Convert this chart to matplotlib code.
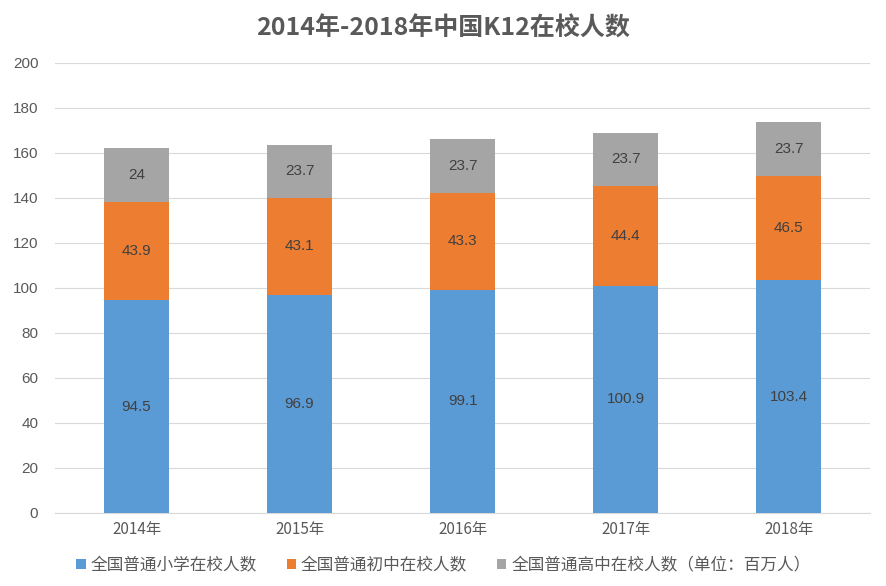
import matplotlib
matplotlib.use("Agg")
import matplotlib.pyplot as plt
from matplotlib.patches import Patch

plt.rcParams['font.family'] = ['Noto Sans CJK SC', 'DejaVu Sans']

years = ['2014年', '2015年', '2016年', '2017年', '2018年']
primary = [94.5, 96.9, 99.1, 100.9, 103.4]
junior = [43.9, 43.1, 43.3, 44.4, 46.5]
senior = [24, 23.7, 23.7, 23.7, 23.7]
series_names = ['全国普通小学在校人数', '全国普通初中在校人数', '全国普通高中在校人数（单位：百万人）']
colors = ['#5B9BD5', '#ED7D31', '#A5A5A5']

fig = plt.figure(figsize=(8.87, 5.86), dpi=100)
ax = fig.add_axes([0.062, 0.1246, 0.919, 0.768])

x = range(len(years))
bottom = [0] * len(years)
for vals, c in zip([primary, junior, senior], colors):
    bars = ax.bar(x, vals, width=0.4, bottom=bottom, color=c, zorder=3)
    for xi, b, v in zip(x, bottom, vals):
        ax.text(xi, b + v / 2, f'{v:g}', ha='center', va='center', fontsize=11,
                color='#404040', family=['Liberation Sans', 'DejaVu Sans'], zorder=4)
    bottom = [b + v for b, v in zip(bottom, vals)]

ax.set_ylim(0, 200)
ax.set_yticks(range(0, 201, 20))
ax.set_xlim(-0.5, 4.5)
ax.set_xticks(list(x))
ax.set_xticklabels(years, fontsize=11, color='#595959')
ax.tick_params(axis='y', labelsize=11, labelcolor='#595959', length=0, pad=12)
ax.tick_params(axis='x', length=0, pad=6)
for lbl in ax.get_yticklabels():
    lbl.set_family(['Liberation Sans', 'DejaVu Sans'])
ax.grid(axis='y', color='#D9D9D9', linewidth=0.8, zorder=0)
for s in ['top', 'right', 'left']:
    ax.spines[s].set_visible(False)
ax.spines['bottom'].set_color('#D9D9D9')

fig.text(0.5, 0.952, '2014年-2018年中国K12在校人数', ha='center', va='center',
         fontsize=18, fontweight='bold', color='#595959')

handles = [Patch(facecolor=c) for c in colors]
fig.legend(handles, series_names, loc='center', bbox_to_anchor=(0.5, 0.035), ncol=3,
           frameon=False, fontsize=12, handlelength=0.55, handleheight=0.55,
           handletextpad=0.3, columnspacing=1.8, labelcolor='#595959')

fig.savefig('out.png', dpi=100)
